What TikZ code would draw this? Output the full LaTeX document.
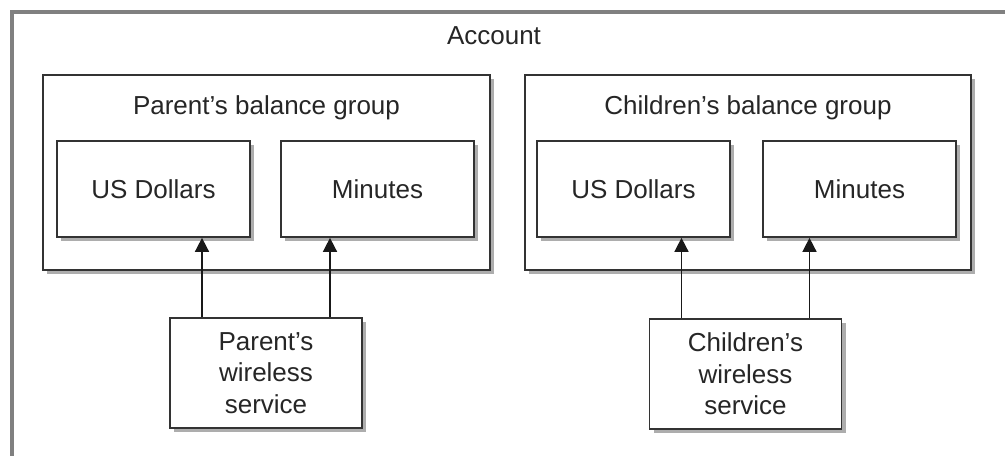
\documentclass[tikz,border=0pt]{standalone}
\usepackage{fontspec}
\setmainfont{Liberation Sans}
\usepackage{tikz}
\usetikzlibrary{arrows.meta,shadows}
\tikzset{
    boxshadow/.style={drop shadow={shadow xshift=3pt,shadow yshift=-3pt,fill=black!40,opacity=0.8}},
    groupbox/.style={draw=black!80,line width=1.3pt,fill=white,boxshadow,
        minimum width=335pt,minimum height=146pt},
    unitbox/.style={draw=black!80,line width=1.3pt,fill=white,boxshadow,
        minimum width=145pt,minimum height=72pt,text=black!85,
        font=\fontsize{19.5}{23.5}\selectfont},
    servicebox/.style={draw=black!80,line width=1.3pt,fill=white,boxshadow,
        minimum width=144pt,minimum height=82pt,text=black!85,align=center,
        font=\fontsize{19.5}{23.5}\selectfont},
    grouptitle/.style={anchor=base,text=black!85,font=\fontsize{19.5}{23.5}\selectfont},
    feeds/.style={-{Triangle[length=10.5pt,width=10.5pt]},line width=1.2pt,black!90},
}

\begin{document}
\begin{tikzpicture}[x=0.75pt,y=-0.75pt]
		\useasboundingbox (0,0) rectangle (1005,456);
		\clip (0,0) rectangle (1005,456);
		% account frame, runs off the page
		\draw[line width=2.3pt,color=black!50] (12,12) rectangle (1040,500);
		\node[grouptitle] (acct) at (494,45) {Account};
		% parent side
		\node[groupbox] (pgroup) at (266.5,172.5) {};
		\node[grouptitle] (ptitle) at (266.5,115) {Parent's balance group};
		\node[unitbox] (pusd) at (153.5,189) {US Dollars};
		\node[unitbox] (pmin) at (377.5,189) {Minutes};
		\node[servicebox] (pserv) at (266,373) {Parent's\\wireless\\service};
		% children side
		\node[groupbox] (cgroup) at (748,172.5) {};
		\node[grouptitle] (ctitle) at (748,115) {Children's balance group};
		\node[unitbox] (cusd) at (633.5,189) {US Dollars};
		\node[unitbox] (cmin) at (859.5,189) {Minutes};
		\node[servicebox] (cserv) at (745.5,374) {Children's\\wireless\\service};
		% services feed the balances
		\draw[feeds] ([xshift=-48pt]pserv.north) -- ([xshift=-48pt]pserv.north |- pusd.south);
		\draw[feeds] ([xshift=48pt]pserv.north) -- ([xshift=48pt]pserv.north |- pmin.south);
		\draw[feeds] ([xshift=-48pt]cserv.north) -- ([xshift=-48pt]cserv.north |- cusd.south);
		\draw[feeds] ([xshift=48pt]cserv.north) -- ([xshift=48pt]cserv.north |- cmin.south);
	\end{tikzpicture}
\end{document}
